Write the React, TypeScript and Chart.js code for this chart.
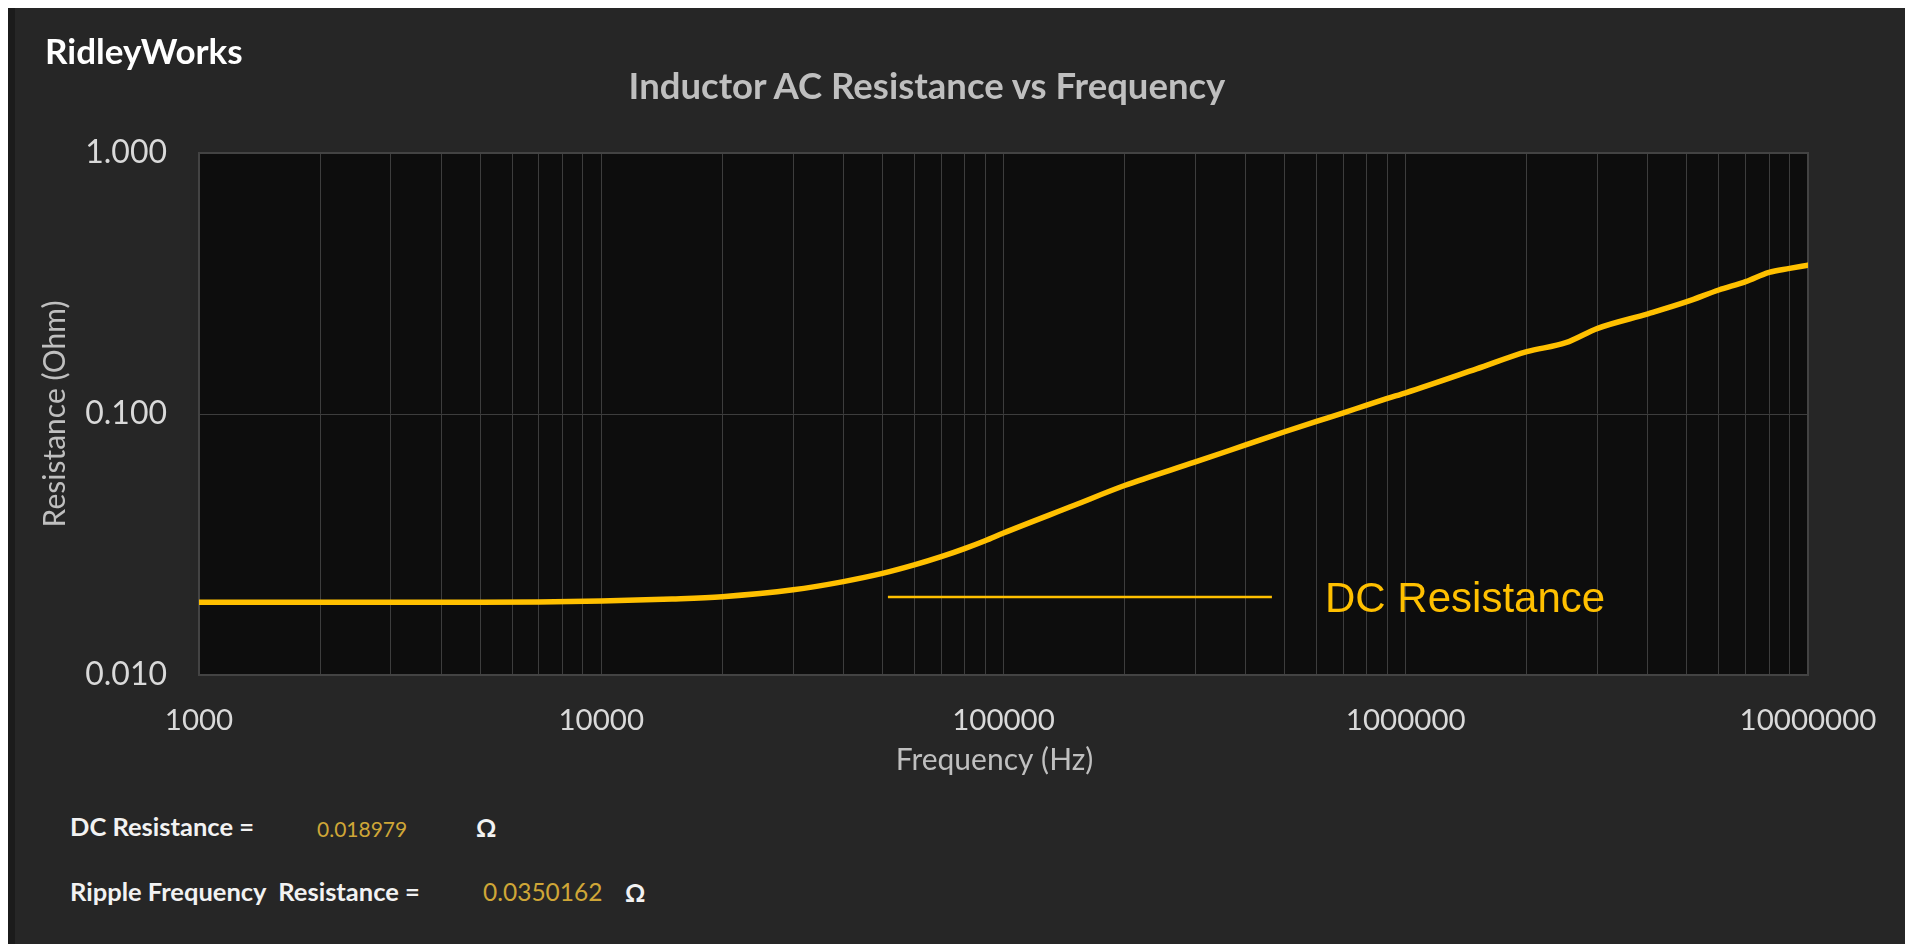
import React, { useEffect, useRef } from "react";
import { Chart, registerables } from "chart.js";

Chart.register(...registerables);

// ---- data ----
const frequencies = [
  1000, 2000, 3000, 5000, 7000, 10000, 15000, 20000, 30000, 40000, 50000, 60000, 70000, 80000, 90000,
  100000, 150000, 200000, 300000, 400000, 500000, 600000, 700000, 800000, 900000, 1000000, 1500000,
  2000000, 2500000, 3000000, 4000000, 5000000, 6000000, 7000000, 8000000, 9000000, 10000000,
];
const resistances = [
  0.01898, 0.01898, 0.01898, 0.01899, 0.01905, 0.0192, 0.01955, 0.01995, 0.0212, 0.0228, 0.0245, 0.0264,
  0.0284, 0.0305, 0.0327, 0.035, 0.0447, 0.0532, 0.0655, 0.0761, 0.0855, 0.0937, 0.101, 0.1082, 0.1147,
  0.1205, 0.1488, 0.1733, 0.1876, 0.2129, 0.242, 0.2693, 0.2986, 0.3213, 0.349, 0.3614, 0.372,
];

// axis ticks
const xDecades = [1000, 10000, 100000, 1000000, 10000000];
const xMinorSteps = [1, 2, 3, 4, 5, 6, 7, 8, 9];
const yTickValues = [0.01, 0.1, 1];
const yTickLabels = ["0.010", "0.100", "1.000"];

// "DC Resistance" marker line and label (data coordinates)
const dcLineFreqs = [51600, 464800];
const dcLineValue = 0.0199;
const dcLabelText = "DC Resistance";
const dcLabelAnchor = [630000, 0.01736];

// texts
const brandText = "RidleyWorks";
const chartTitle = "Inductor AC Resistance vs Frequency";
const xTitle = "Frequency (Hz)";
const yTitle = "Resistance (Ohm)";
const statLabels = ["DC Resistance =", "Ripple Frequency  Resistance ="];
const statValues = ["0.018979", "0.0350162"];
const unitSymbol = "Ω";

const GOLD = "#FFC000";

function Txt(props: {
  x: number;
  baseline: number;
  size: number;
  weight?: number | string;
  color: string;
  align?: "left" | "center";
  family?: string;
  children: React.ReactNode;
}) {
  const { x, baseline, size, weight = 400, color, align = "left", family = "Lato", children } = props;
  return (
    <div
      style={{
        position: "absolute",
        left: x,
        top: baseline - 0.887 * size,
        fontSize: size,
        lineHeight: `${size}px`,
        fontFamily: family,
        fontWeight: weight as any,
        color,
        whiteSpace: "pre",
        transform: align === "center" ? "translateX(-50%)" : undefined,
      }}
    >
      {children}
    </div>
  );
}

export default function App() {
  const ref = useRef<HTMLCanvasElement>(null);

  useEffect(() => {
    document.documentElement.style.overflow = "hidden";
    const canvas = ref.current;
    if (!canvas) return;
    const lastDecade = xDecades[xDecades.length - 1];
    const xGrid = xDecades.flatMap((d) => xMinorSteps.map((m) => m * d)).filter((v) => v <= lastDecade);

    const plotFrame = {
      id: "plotFrame",
      beforeDraw(chart: any) {
        const { ctx, chartArea: a } = chart;
        ctx.save();
        ctx.fillStyle = "#0d0d0d";
        ctx.fillRect(a.left, a.top, a.right - a.left, a.bottom - a.top);
        ctx.restore();
      },
      beforeDatasetsDraw(chart: any) {
        const { ctx, chartArea: a } = chart;
        ctx.save();
        ctx.strokeStyle = "#434343";
        ctx.lineWidth = 2;
        ctx.strokeRect(a.left, a.top, a.right - a.left, a.bottom - a.top);
        ctx.restore();
      },
    };

    const dcLabel = {
      id: "dcLabel",
      afterDatasetsDraw(chart: any) {
        const { ctx } = chart;
        const x = chart.scales.x.getPixelForValue(dcLabelAnchor[0]);
        const y = chart.scales.y.getPixelForValue(dcLabelAnchor[1]);
        ctx.save();
        ctx.font = '42px "Liberation Sans", Arial, sans-serif';
        ctx.fillStyle = GOLD;
        ctx.textAlign = "left";
        ctx.textBaseline = "alphabetic";
        ctx.fillText(dcLabelText, x, y);
        ctx.restore();
      },
    };

    // x-axis title drawn slightly left of the plot centre, as in the reference
    const xTitleDraw = {
      id: "xTitleDraw",
      afterDraw(chart: any) {
        const { ctx, chartArea: a } = chart;
        ctx.save();
        ctx.font = '30px "Lato", sans-serif';
        ctx.fillStyle = "#bfbfbf";
        ctx.textAlign = "center";
        ctx.textBaseline = "middle";
        ctx.fillText(xTitle, (a.left + a.right) / 2 - 9, a.bottom + 85);
        ctx.restore();
      },
    };

    const chart = new Chart(canvas, {
      type: "line",
      data: {
        datasets: [
          {
            label: "AC Resistance",
            data: frequencies.map((f, i) => ({ x: f, y: resistances[i] })),
            borderColor: GOLD,
            backgroundColor: GOLD,
            borderWidth: 5.5,
            pointRadius: 0,
            tension: 0.4,
            cubicInterpolationMode: "monotone",
            borderCapStyle: "round",
            fill: false,
          },
          {
            label: "DC Resistance",
            data: dcLineFreqs.map((f) => ({ x: f, y: dcLineValue })),
            borderColor: GOLD,
            backgroundColor: GOLD,
            borderWidth: 2.5,
            pointRadius: 0,
            tension: 0,
            fill: false,
          },
        ],
      } as any,
      options: {
        animation: false,
        responsive: false,
        events: [],
        layout: { padding: { left: 0, top: 145, right: 97, bottom: 0 } },
        plugins: { legend: { display: false }, tooltip: { enabled: false }, title: { display: false } },
        scales: {
          x: {
            type: "logarithmic",
            min: 1000,
            max: 10000000,
            position: "bottom",
            grid: { color: "#3d3d3d", lineWidth: 1, drawTicks: false },
            border: { display: true, color: "#434343", width: 2 },
            ticks: {
              autoSkip: false,
              maxRotation: 0,
              minRotation: 0,
              color: "#d9d9d9",
              padding: 28,
              font: { family: "Lato", size: 29.5 },
              callback: (v: any) => (xDecades.includes(Number(v)) ? String(v) : ""),
            },
            title: { display: false },
            afterBuildTicks: (scale: any) => {
              scale.ticks = xGrid.map((v) => ({ value: v }));
            },
            afterFit: (scale: any) => {
              scale.height = 133;
            },
          },
          y: {
            type: "logarithmic",
            min: 0.01,
            max: 1,
            grid: { color: "#3d3d3d", lineWidth: 1, drawTicks: false },
            border: { display: true, color: "#434343", width: 2 },
            ticks: {
              autoSkip: false,
              color: "#d9d9d9",
              padding: 32,
              font: { family: "Lato", size: 32 },
              callback: (v: any) => {
                const i = yTickValues.findIndex((t) => Math.abs(t - Number(v)) < 1e-9);
                return i >= 0 ? yTickLabels[i] : "";
              },
            },
            title: {
              display: true,
              text: yTitle,
              color: "#bfbfbf",
              font: { family: "Lato", size: 30 },
              padding: { top: 29, bottom: 0 },
            },
            afterBuildTicks: (scale: any) => {
              scale.ticks = yTickValues.map((v) => ({ value: v }));
            },
            afterFit: (scale: any) => {
              scale.width = 191;
            },
          },
        },
      } as any,
      plugins: [plotFrame, dcLabel, xTitleDraw],
    });
    return () => chart.destroy();
  }, []);

  return (
    <div
      style={{
        position: "relative",
        height: 960,
        marginBottom: -24,
        background: "#262626",
        overflow: "hidden",
      }}
    >
      <div style={{ position: "absolute", left: 0, top: 0, width: 7, height: "100%", background: "#1b1b1b" }} />
      <canvas ref={ref} width={1897} height={800} style={{ position: "absolute", left: 0, top: 0, display: "block" }} />
      <Txt x={37} baseline={56} size={35} weight={700} color="#ffffff">
        {brandText}
      </Txt>
      <Txt x={919} baseline={91} size={36.5} weight={700} color="#bfbfbf" align="center">
        {chartTitle}
      </Txt>
      <Txt x={62} baseline={829} size={25.5} weight={700} color="#f2f2f2">
        {statLabels[0]}
      </Txt>
      <Txt x={309} baseline={829} size={21} color="#cfa637">
        {statValues[0]}
      </Txt>
      <Txt x={468} baseline={829} size={25} weight={700} color="#f2f2f2">
        {unitSymbol}
      </Txt>
      <Txt x={62} baseline={894} size={25.5} weight={700} color="#f2f2f2">
        {statLabels[1]}
      </Txt>
      <Txt x={475} baseline={894} size={24.5} color="#cfa637">
        {statValues[1]}
      </Txt>
      <Txt x={617} baseline={894} size={25} weight={700} color="#f2f2f2">
        {unitSymbol}
      </Txt>
    </div>
  );
}
